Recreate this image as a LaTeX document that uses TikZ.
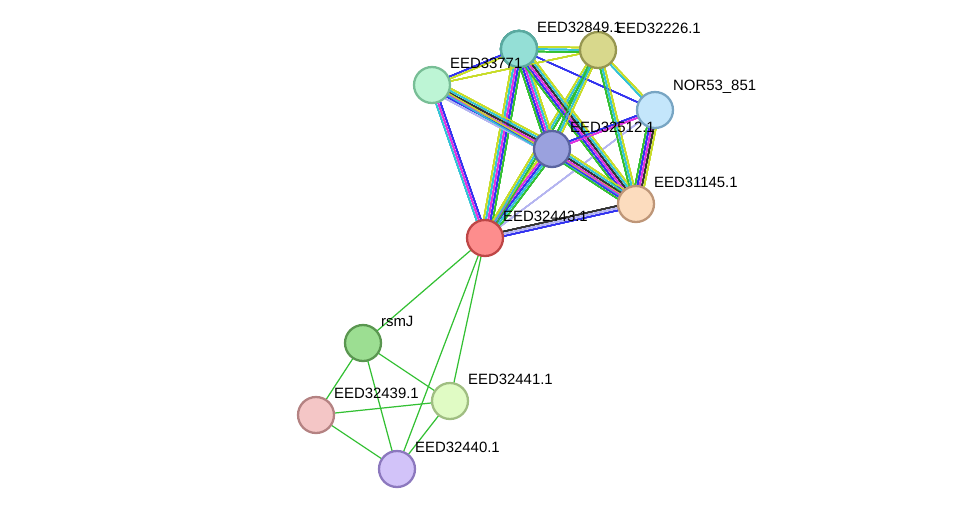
\documentclass[tikz,border=0pt]{standalone}
\usepackage{fontspec}
\setmainfont{Liberation Sans}
\usetikzlibrary{calc}
\definecolor{cG}{HTML}{33C033}
\definecolor{cY}{HTML}{C8DC28}
\definecolor{cK}{HTML}{333333}
\definecolor{cM}{HTML}{E033E0}
\definecolor{cC}{HTML}{33C3D6}
\definecolor{cB}{HTML}{3333F0}
\definecolor{cL}{HTML}{B4B4F0}
\newcommand{\medge}[3]{%
 \foreach \c [count=\i] in {#3} {\xdef\nn{\i}}%
 \foreach \c [count=\i] in {#3} {%
  \pgfmathsetmacro{\off}{(\i-(\nn+1)/2)*1.3}%
  \draw[\c,line width=0.7pt] ($(#1)!\off pt!90:(#2)$) -- ($(#2)!\off pt!-90:(#1)$);}}
\tikzset{nd/.style={circle,draw,line width=1.3pt,minimum size=0.72cm,inner sep=0pt},
 lb/.style={font=\fontsize{8.5}{10}\selectfont,anchor=south west,inner sep=1pt}}
\begin{document}
\begin{tikzpicture}[x=0.02cm,y=-0.02cm]
\useasboundingbox (0,0) rectangle (975,515);
\coordinate (A) at (519,49);
\coordinate (B) at (598,50);
\coordinate (C) at (432,85);
\coordinate (N) at (655,110);
\coordinate (D) at (552,149);
\coordinate (E) at (636,204);
\coordinate (F) at (485,238);
\coordinate (R) at (363,343);
\coordinate (P) at (316,415);
\coordinate (Q) at (450,401);
\coordinate (S) at (397,469);
% lower cluster
\foreach \a/\b in {F/R,F/Q,F/S,R/P,R/Q,R/S,P/Q,P/S,Q/S} \medge{\a}{\b}{cG}
% upper cluster
\medge{F}{D}{cG,cC,cB,cM,cY}
\medge{F}{E}{cB,cL,cK}
\medge{F}{C}{cB,cM,cC}
\medge{F}{A}{cG,cB,cM,cC,cY}
\medge{F}{B}{cG,cC,cY}
\medge{F}{N}{cL}
\medge{A}{B}{cG,cC,cY}
\medge{A}{C}{cB,cY}
\medge{A}{N}{cB}
\medge{A}{D}{cG,cB,cM,cC,cY}
\medge{A}{E}{cG,cB,cM,cK,cC,cY}
\medge{B}{D}{cG,cC,cY}
\medge{B}{E}{cG,cC,cY}
\medge{B}{N}{cC,cY}
\medge{B}{C}{cY}
\medge{N}{E}{cG,cB,cM,cK,cY}
\medge{N}{D}{cB,cM}
\medge{C}{D}{cL,cB,cM,cK,cC,cY}
\medge{C}{E}{cC,cY}
\medge{D}{E}{cG,cB,cM,cK,cC,cY}
% nodes
\node[nd,fill={rgb,255:red,148;green,223;blue,214},draw={rgb,255:red,90;green,170;blue,160}] (a) at (A) {};
\node[nd,fill={rgb,255:red,216;green,216;blue,140},draw={rgb,255:red,150;green,150;blue,80}] (b) at (B) {};
\node[nd,fill={rgb,255:red,189;green,245;blue,213},draw={rgb,255:red,120;green,190;blue,150}] (c) at (C) {};
\node[nd,fill={rgb,255:red,196;green,230;blue,251},draw={rgb,255:red,120;green,165;blue,195}] (n) at (N) {};
\node[nd,fill={rgb,255:red,154;green,161;blue,222},draw={rgb,255:red,90;green,100;blue,160}] (d) at (D) {};
\node[nd,fill={rgb,255:red,252;green,220;blue,190},draw={rgb,255:red,190;green,150;blue,120}] (e) at (E) {};
\node[nd,fill={rgb,255:red,253;green,141;blue,141},draw={rgb,255:red,190;green,70;blue,70}] (f) at (F) {};
\node[nd,fill={rgb,255:red,156;green,222;blue,146},draw={rgb,255:red,90;green,150;blue,80}] (r) at (R) {};
\node[nd,fill={rgb,255:red,244;green,198;blue,198},draw={rgb,255:red,180;green,130;blue,130}] (p) at (P) {};
\node[nd,fill={rgb,255:red,224;green,251;blue,196},draw={rgb,255:red,160;green,190;blue,130}] (q) at (Q) {};
\node[nd,fill={rgb,255:red,210;green,195;blue,249},draw={rgb,255:red,140;green,120;blue,190}] (s) at (S) {};
% labels
\node[lb] at (535,35) {EED32849.1};
\node[lb] at (614,36) {EED32226.1};
\node[lb] at (448,71) {EED3377\rlap{1}};
\node[lb] at (671,96) {NOR53\_851};
\node[lb] at (568,135) {EED32512.1};
\node[lb] at (652,190) {EED31145.1};
\node[lb] at (501,224) {EED32443.1};
\node[lb] at (379,329) {rsmJ};
\node[lb] at (332,401) {EED32439.1};
\node[lb] at (466,387) {EED32441.1};
\node[lb] at (413,455) {EED32440.1};
\end{tikzpicture}
\end{document}
